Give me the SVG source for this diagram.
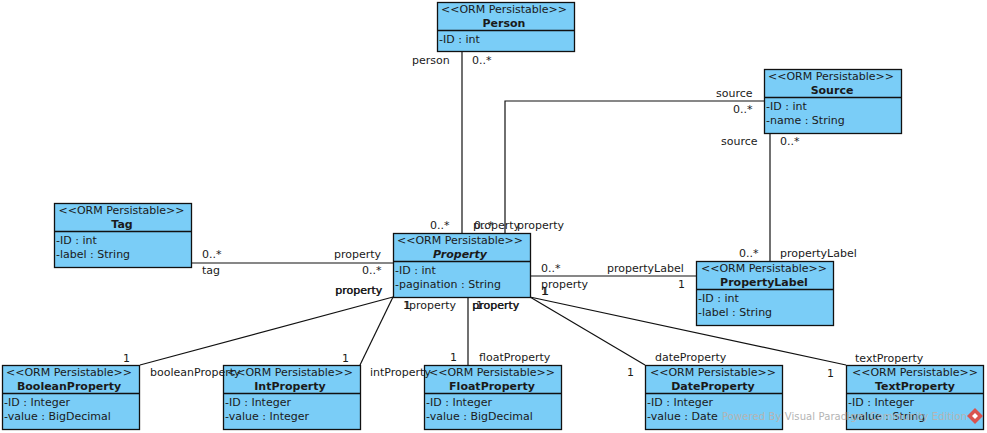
<svg xmlns="http://www.w3.org/2000/svg" width="987" height="433" viewBox="0 0 987 433">
<style>
text{font-family:"DejaVu Sans",sans-serif;font-size:11px;fill:#1a1a1a}
.b{fill:#7acdf7;stroke:#111;stroke-width:1.3}
.d{stroke:#111;stroke-width:1.3;fill:none}
.c{stroke:#111;stroke-width:1.2;fill:none}
.m{text-anchor:middle}
.t{font-weight:bold;text-anchor:middle}
.wm{fill:#b4b4b4;font-size:10px;letter-spacing:.1px}
</style>
<rect width="987" height="433" fill="#fff"/>
<g id="connectors">
<path class="c" d="M462 52V233"/>
<path class="c" d="M764 101H505V233"/>
<path class="c" d="M770 133V261"/>
<path class="c" d="M191 263H393"/>
<path class="c" d="M530 276H696"/>
<path class="c" d="M393 297L140 365"/>
<path class="c" d="M393 297L360 365"/>
<path class="c" d="M468 297V365"/>
<path class="c" d="M530 297L645 365"/>
<path class="c" d="M530 297L846 365"/>
</g>
<g id="Person"><rect class="b" x="437.500" y="2.500" width="137" height="49"/><path class="d" d="M437.500 30.500H574.500"/><text class="m" x="504" y="13">&lt;&lt;ORM Persistable&gt;&gt;</text><text class="t" x="504" y="27">Person</text><text x="439" y="43">-ID : int</text></g>
<g id="Source"><rect class="b" x="764.500" y="69.500" width="137" height="64"/><path class="d" d="M764.500 97.500H901.500"/><text class="m" x="831" y="80">&lt;&lt;ORM Persistable&gt;&gt;</text><text class="t" x="832" y="94">Source</text><text x="766" y="110">-ID : int</text><text x="766" y="124">-name : String</text></g>
<g id="Tag"><rect class="b" x="54.500" y="203.500" width="137" height="64"/><path class="d" d="M54.500 231.500H191.500"/><text class="m" x="121.500" y="214">&lt;&lt;ORM Persistable&gt;&gt;</text><text class="t" x="122" y="228">Tag</text><text x="56" y="244">-ID : int</text><text x="56" y="258">-label : String</text></g>
<g id="Property"><rect class="b" x="393.500" y="233.500" width="137" height="64"/><path class="d" d="M393.500 261.500H530.500"/><text class="m" x="460" y="244">&lt;&lt;ORM Persistable&gt;&gt;</text><text class="t" x="460" y="258" font-style="italic">Property</text><text x="395" y="274">-ID : int</text><text x="395" y="288">-pagination : String</text></g>
<g id="PropertyLabel"><rect class="b" x="696.500" y="261.500" width="137" height="64"/><path class="d" d="M696.500 289.500H833.500"/><text class="m" x="764" y="272">&lt;&lt;ORM Persistable&gt;&gt;</text><text class="t" x="764" y="286">PropertyLabel</text><text x="698" y="302">-ID : int</text><text x="698" y="316">-label : String</text></g>
<g id="BooleanProperty"><rect class="b" x="2.500" y="365.500" width="137" height="64"/><path class="d" d="M2.500 393.500H139.500"/><text class="m" x="69" y="376">&lt;&lt;ORM Persistable&gt;&gt;</text><text class="t" x="69" y="390">BooleanProperty</text><text x="4" y="406">-ID : Integer</text><text x="4" y="420">-value : BigDecimal</text></g>
<g id="IntProperty"><rect class="b" x="223.500" y="365.500" width="137" height="64"/><path class="d" d="M223.500 393.500H360.500"/><text class="m" x="290" y="376">&lt;&lt;ORM Persistable&gt;&gt;</text><text class="t" x="290" y="390">IntProperty</text><text x="225" y="406">-ID : Integer</text><text x="225" y="420">-value : Integer</text></g>
<g id="FloatProperty"><rect class="b" x="424.500" y="365.500" width="137" height="64"/><path class="d" d="M424.500 393.500H561.500"/><text class="m" x="492" y="376">&lt;&lt;ORM Persistable&gt;&gt;</text><text class="t" x="492" y="390">FloatProperty</text><text x="426" y="406">-ID : Integer</text><text x="426" y="420">-value : BigDecimal</text></g>
<g id="DateProperty"><rect class="b" x="645.500" y="365.500" width="137" height="64"/><path class="d" d="M645.500 393.500H782.500"/><text class="m" x="713" y="376">&lt;&lt;ORM Persistable&gt;&gt;</text><text class="t" x="713" y="390">DateProperty</text><text x="647" y="406">-ID : Integer</text><text x="647" y="420">-value : Date</text></g>
<g id="TextProperty"><rect class="b" x="846.500" y="365.500" width="137" height="64"/><path class="d" d="M846.500 393.500H983.500"/><text class="m" x="915" y="376">&lt;&lt;ORM Persistable&gt;&gt;</text><text class="t" x="915" y="390">TextProperty</text><text x="848" y="406">-ID : Integer</text><text x="848" y="420">-value : String</text></g>
<g id="labels">
<text x="412" y="64">person</text><text x="472" y="64">0..*</text>
<text x="716" y="97">source</text><text x="733" y="113">0..*</text>
<text x="721" y="145">source</text><text x="780" y="145">0..*</text>
<text x="739" y="257">0..*</text><text x="780" y="257">propertyLabel</text>
<text x="430" y="229">0..*</text><text x="474" y="229">0..*</text><text x="473" y="229">property</text><text x="517" y="229">property</text>
<text x="334" y="258">property</text><text x="362" y="274">0..*</text>
<text x="202" y="258">0..*</text><text x="202" y="274">tag</text>
<text x="541" y="272">0..*</text><text x="607" y="272">propertyLabel</text>
<text x="541" y="288">property</text><text x="678" y="288">1</text><text x="541" y="295">1</text><text x="542" y="295">1</text>
<text x="335" y="294">property</text><text x="335.500" y="294">property</text>
<text x="403" y="309">1</text><text x="404" y="309">1</text><text x="409" y="309">property</text>
<text x="472" y="309">property</text><text x="472.500" y="309">property</text><text x="476" y="309">1</text>
<text x="123" y="362">1</text><text x="150" y="376">booleanProperty</text>
<text x="342" y="362">1</text><text x="370" y="376">intProperty</text>
<text x="450" y="361">1</text><text x="479" y="361">floatProperty</text>
<text x="627" y="376">1</text><text x="655" y="361">dateProperty</text>
<text x="827" y="377">1</text><text x="855" y="362">textProperty</text>
</g>
<g id="watermark"><text class="wm" x="722" y="420">Powered By Visual Paradigm Community Edition</text><path d="M975 408L983 416L975 424L967 416Z" fill="#d9534f"/><path d="M975 413L978 416L975 419L972 416Z" fill="#fff"/></g>
</svg>
